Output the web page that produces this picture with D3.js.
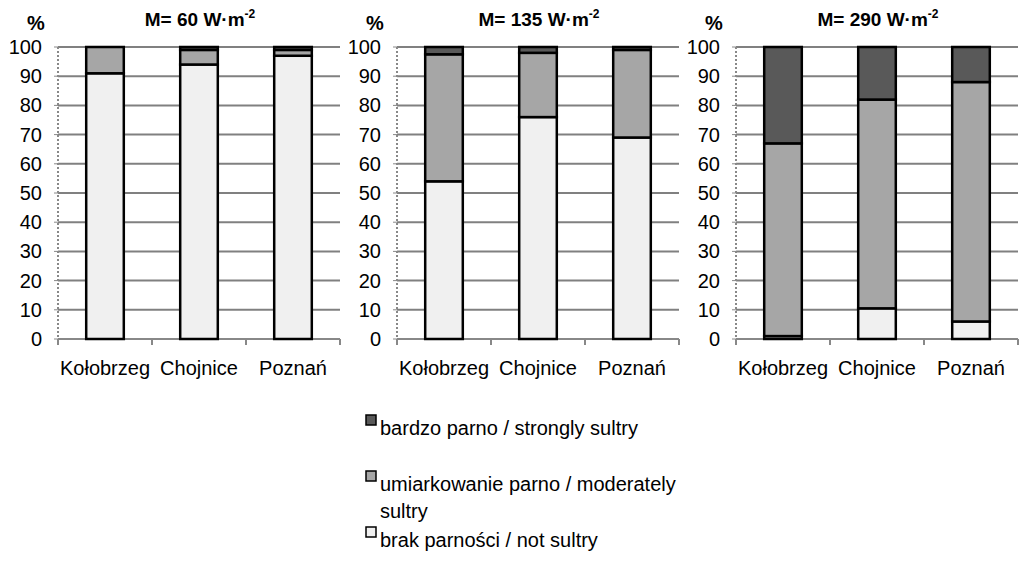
<!DOCTYPE html><html><head><meta charset="utf-8"><script src="https://d3js.org/d3.v7.min.js"></script>
<style>body{margin:0;background:#fff}text{font-family:"Liberation Sans",Arial,sans-serif}</style></head><body>
<svg width="1024" height="580"></svg>
<script>
const categories=["Kołobrzeg","Chojnice","Poznań"];
const titles=["60","135","290"];
const notSultry=[[91,94,97],[54,76,69],[1,10.5,6]];
const moderate=[[9,5,2],[43.5,22,30],[66,71.5,82]];
const strong=[[0,1,1],[2.5,2,1],[33,18,12]];
const ticks=[0,10,20,30,40,50,60,70,80,90,100];
const seriesNames=["bardzo parno / strongly sultry","umiarkowanie parno / moderately sultry","brak parności / not sultry"];
const colors={ns:"#f0f0f0",mod:"#a6a6a6",st:"#595959"};
const svg=d3.select("svg");
const y=d3.scaleLinear().domain([0,100]).range([339,47]);
const lefts=[58,397,736];
lefts.forEach((L,p)=>{
  const x=d3.scaleBand().domain(categories).range([L,L+282]).paddingInner(0.6).paddingOuter(0.3);
  const g=svg.append("g");
  ticks.forEach(t=>{ if(t>0) g.append("line").attr("x1",L).attr("x2",L+282).attr("y1",y(t)).attr("y2",y(t)).attr("stroke","#808080").attr("stroke-width",2);
    g.append("line").attr("x1",L-4).attr("x2",L).attr("y1",y(t)).attr("y2",y(t)).attr("stroke","#888");
    g.append("text").attr("x",L-16).attr("y",y(t)+7).attr("text-anchor","end").attr("font-size",20).text(t);});
  g.append("line").attr("x1",L).attr("x2",L).attr("y1",y(100)).attr("y2",y(0)).attr("stroke","#888").attr("stroke-width",2).attr("stroke-dasharray","2,2");
  g.append("line").attr("x1",L).attr("x2",L+282).attr("y1",y(0)).attr("y2",y(0)).attr("stroke","#888").attr("stroke-width",2);
  [0,1,2,3].forEach(i=>g.append("line").attr("x1",L+i*94).attr("x2",L+i*94).attr("y1",y(0)).attr("y2",y(0)+6).attr("stroke","#888").attr("stroke-width",2));
  g.append("text").attr("x",L-22).attr("y",30).attr("text-anchor","middle").attr("font-size",20).attr("font-weight","bold").text("%");
  const tt=g.append("text").attr("x",L+142).attr("y",26).attr("text-anchor","middle").attr("font-size",19).attr("font-weight","bold");
  tt.append("tspan").text("M= "+titles[p]+" W·m");
  tt.append("tspan").attr("dy",-8).attr("font-size",12).text("-2");
  categories.forEach((c,i)=>{
    const segs=[[0,notSultry[p][i],colors.ns],[notSultry[p][i],notSultry[p][i]+moderate[p][i],colors.mod],[notSultry[p][i]+moderate[p][i],notSultry[p][i]+moderate[p][i]+strong[p][i],colors.st]];
    segs.forEach(([a,b,col])=>{ if(b-a<=0) return;
      g.append("rect").attr("x",x(c)).attr("width",x.bandwidth()).attr("y",y(b)).attr("height",y(a)-y(b)).attr("fill",col).attr("stroke","#000").attr("stroke-width",2.5);});
    g.append("text").attr("x",x(c)+x.bandwidth()/2).attr("y",375).attr("text-anchor","middle").attr("font-size",20).text(c);
  });
});
const lg=svg.append("g");
const ly=[428,484,540],lc=[colors.st,colors.mod,colors.ns];
ly.forEach((yy,i)=>{
  lg.append("rect").attr("x",366).attr("y",yy-13).attr("width",10).attr("height",10).attr("fill",lc[i]).attr("stroke","#000").attr("stroke-width",1.5);
});
lg.append("text").attr("x",380).attr("y",435).attr("font-size",20).text(seriesNames[0]);
lg.append("text").attr("x",380).attr("y",491).attr("font-size",20).text("umiarkowanie parno / moderately");
lg.append("text").attr("x",380).attr("y",518).attr("font-size",20).text("sultry");
lg.append("text").attr("x",380).attr("y",547).attr("font-size",20).text(seriesNames[2]);
</script></body></html>
